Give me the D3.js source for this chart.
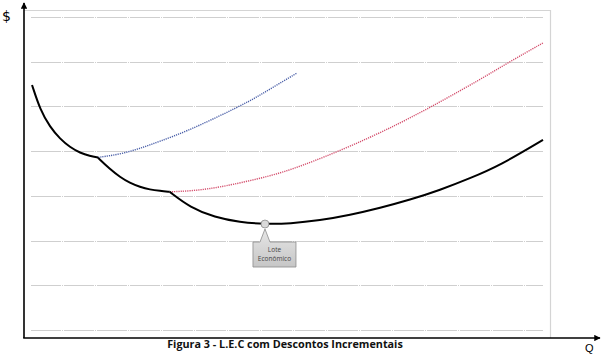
<!DOCTYPE html>
<html><head><meta charset="utf-8">
<script src="https://cdn.jsdelivr.net/npm/d3@7"></script>
<style>body{margin:0;background:#fff}svg{display:block}</style>
</head><body>
<svg id="c" width="602" height="357"></svg>
<script>
// Data (Q, cost)
const gridValues = [0,1,2,3,4,5,6,7];
const seg1Q = [0.2,1.8,3.7,5.7,7.6,9.6,11.5,13.1];
const seg1V = [5.48,4.92,4.54,4.27,4.09,3.96,3.89,3.86];
const seg2Q = [13.1,15.4,17.4,19.3,21.3,23.2,25.2,27.1];
const seg2V = [3.85,3.60,3.42,3.29,3.20,3.14,3.11,3.09];
const seg3Q = [27.1,31.1,35.9,40.8,45.7,50.6,56.4,62.3,68.2,74.0,79.9,85.7,91.6,100];
const seg3V = [3.09,2.74,2.52,2.41,2.37,2.38,2.45,2.57,2.73,2.91,3.13,3.39,3.68,4.25];
const blueQ = [13.1,17.4,21.3,25.2,30.5,36.9,42.8,46.7,52.0];
const blueV = [3.86,3.93,4.06,4.22,4.45,4.79,5.12,5.39,5.75];
const redQ = [27.1,31.1,35.0,38.9,46.7,52.5,62.3,72.1,79.9,87.7,93.2,100];
const redV = [3.09,3.11,3.16,3.24,3.44,3.65,4.10,4.62,5.10,5.60,5.98,6.42];
const lotQ = 45.7, lotV = 2.37;
const labels = {y:"$", x:"Q", title:"Figura 3 - L.E.C com Descontos Incrementais", lot:["Lote","Econômico"]};

const svg = d3.select("#c");
const x = d3.scaleLinear().domain([0,100]).range([31,543]);
const y = d3.scaleLinear().domain([0,7]).range([330,17]);

// frame
svg.append("path").attr("d","M24,10.5H550.5V338").attr("fill","none").attr("stroke","#d4d4d4").attr("stroke-width",1.2);

// gridlines
svg.append("g").selectAll("line").data(gridValues).join("line")
  .attr("x1",31).attr("x2",543)
  .attr("y1",d=>Math.round(y(d))+0.5).attr("y2",d=>Math.round(y(d))+0.5)
  .attr("stroke","#cfcfcf").attr("stroke-width",1).attr("stroke-dasharray","30,1,1,1");

// axes with arrows
const defs = svg.append("defs");
defs.append("marker").attr("id","ar").attr("viewBox","0 0 10 10").attr("refX",9).attr("refY",5)
  .attr("markerWidth",4).attr("markerHeight",4).attr("orient","auto")
  .append("path").attr("d","M0,0L10,5L0,10z").attr("fill","#000");
svg.append("line").attr("x1",24).attr("y1",338).attr("x2",24).attr("y2",3)
  .attr("stroke","#000").attr("stroke-width",1.6).attr("marker-end","url(#ar)");
svg.append("line").attr("x1",23.2).attr("y1",338).attr("x2",600).attr("y2",338)
  .attr("stroke","#000").attr("stroke-width",1.6).attr("marker-end","url(#ar)");

const line = d3.line().x(d=>x(d[0])).y(d=>y(d[1])).curve(d3.curveBasis);
const zip = (a,b)=>a.map((v,i)=>[v,b[i]]);

svg.append("path").attr("d",line(zip(blueQ,blueV))).attr("fill","none")
  .attr("stroke","#4a5fa8").attr("stroke-width",1.4).attr("stroke-dasharray","1.2,1");
svg.append("path").attr("d",line(zip(redQ,redV))).attr("fill","none")
  .attr("stroke","#d4506e").attr("stroke-width",1.4).attr("stroke-dasharray","1.2,1");
[[seg1Q,seg1V],[seg2Q,seg2V],[seg3Q,seg3V]].forEach(s=>{
  svg.append("path").attr("d",line(zip(s[0],s[1]))).attr("fill","none")
    .attr("stroke","#000").attr("stroke-width",2);
});

// callout
const grad = defs.append("linearGradient").attr("id","g").attr("x1",0).attr("y1",0).attr("x2",0).attr("y2",1);
grad.append("stop").attr("offset","0").attr("stop-color","#e6e6e6");
grad.append("stop").attr("offset","1").attr("stop-color","#c6c6c6");
const mx = x(lotQ), my = y(lotV);
const bx0 = mx-12, bx1 = mx+31, by0 = my+18, by1 = my+43;
svg.append("path")
  .attr("d",`M${bx0},${by0}H${mx-5}L${mx},${my+5}L${mx+5},${by0}H${bx1}V${by1}H${bx0}Z`)
  .attr("fill","url(#g)").attr("stroke","#8c8c8c").attr("stroke-width",0.8);
svg.append("circle").attr("cx",mx).attr("cy",my).attr("r",4)
  .attr("fill","#d9d9d9").attr("stroke","#8c8c8c").attr("stroke-width",0.8);
svg.append("text").attr("x",(bx0+bx1)/2).attr("y",by0+10).attr("text-anchor","middle")
  .attr("font-family","Open Sans, sans-serif").attr("font-size",6.5).attr("fill","#444").text(labels.lot[0]);
svg.append("text").attr("x",(bx0+bx1)/2).attr("y",by0+19).attr("text-anchor","middle")
  .attr("font-family","Open Sans, sans-serif").attr("font-size",6.5).attr("fill","#444").text(labels.lot[1]);

// texts
svg.append("text").attr("x",2).attr("y",21).attr("font-family","DejaVu Sans, sans-serif")
  .attr("font-size",14).attr("fill","#000").style("fill","#000").text(labels.y);
svg.append("text").attr("x",585).attr("y",352).attr("font-family","Liberation Sans, sans-serif")
  .attr("font-size",11).attr("fill","#000").text(labels.x);
svg.append("text").attr("x",285).attr("y",348).attr("text-anchor","middle").attr("font-family","Open Sans, sans-serif")
  .attr("font-size",10.8).attr("font-weight","bold").attr("fill","#111").text(labels.title);
</script>
</body></html>
